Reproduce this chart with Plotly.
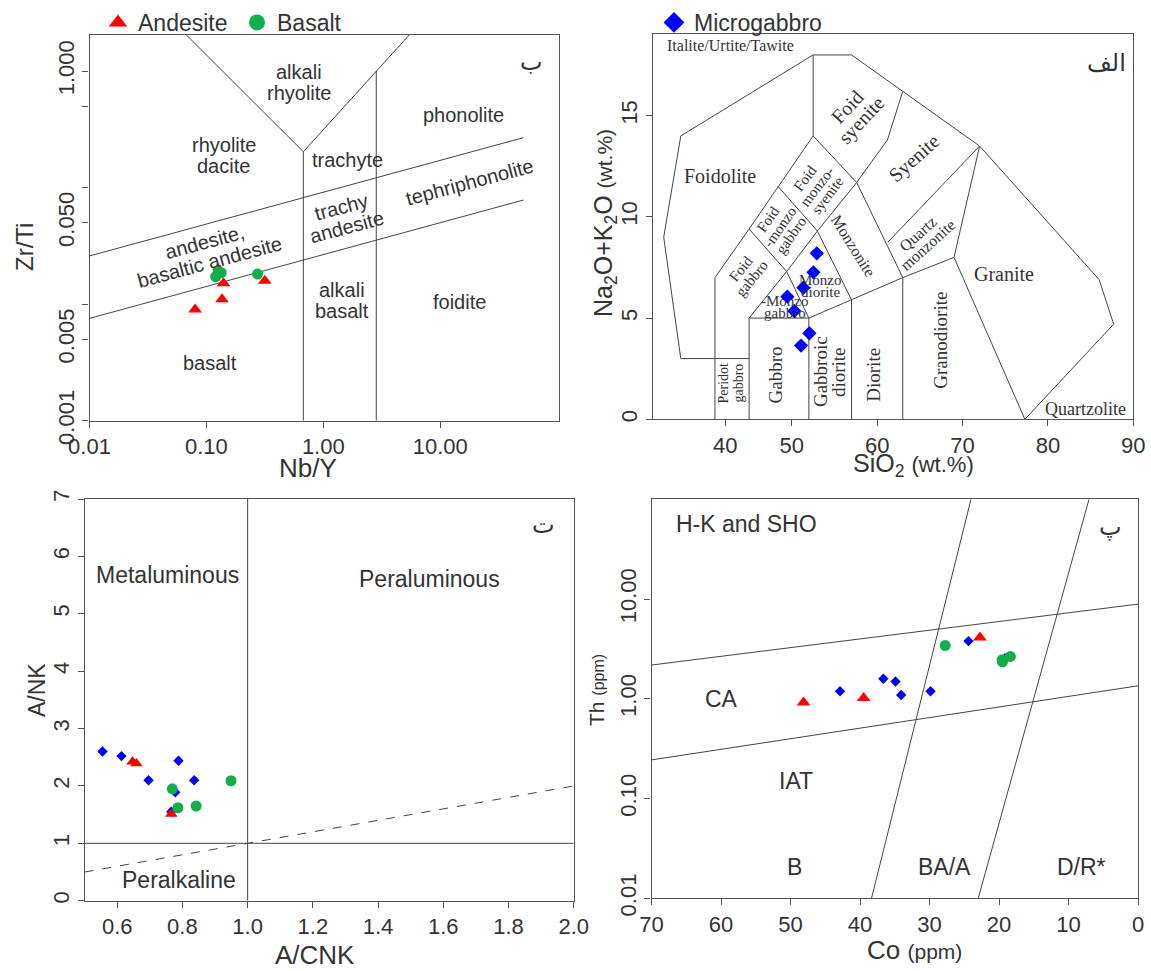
import numpy as np
import plotly.graph_objects as go

W, H = 1151, 971
SANS = "Liberation Sans"
SERIF = "Liberation Serif"
ARAB = "DejaVu Sans"
TXT = "#333333"
AX = "#555555"
LN = "#444444"
RED, GREEN, BLUE = "#FF0000", "#13AE4B", "#0000FF"

# ---------------- Panel "ب" : Zr/Ti vs Nb/Y (Pearce 1996) ----------------
pe_andesite_nby = [0.080, 0.136, 0.140, 0.316]
pe_andesite_zrti = [0.0090, 0.0110, 0.0151, 0.0159]
pe_basalt_nby = [0.120, 0.126, 0.134, 0.274]
pe_basalt_zrti = [0.0172, 0.0194, 0.0186, 0.0181]
pe_lines = [
    [(0.0655, 2.1), (0.675, 0.203), (5.58, 2.1)],
    [(0.675, 0.203), (0.675, 0.001)],
    [(2.84, 1.0), (2.84, 0.001)],
    [(0.01, 0.0259), (51.5, 0.268)],
    [(0.01, 0.00755), (51.5, 0.0782)],
]
pe_xticks = [0.01, 0.1, 1, 10]
pe_xticktext = ["0.01", "0.10", "1.00", "10.00"]
pe_yticks = [0.001, 0.005, 0.01, 0.05, 0.1, 0.5, 1]
pe_yticktext = ["0.001", "0.005", "", "0.050", "", "", "1.000"]
pe_labels = [  # lines, x, y, angle
    (["alkali", "rhyolite"], 0.618, 0.794, 0),
    (["phonolite"], 15.8, 0.419, 0),
    (["rhyolite", "dacite"], 0.141, 0.187, 0),
    (["trachyte"], 1.62, 0.172, 0),
    (["tephriphonolite"], 17.9, 0.112, -15),
    (["trachy", "andesite"], 1.50, 0.0562, -15),
    (["andesite,", "basaltic andesite"], 0.101, 0.0282, -15),
    (["alkali", "basalt"], 1.45, 0.0108, 0),
    (["foidite"], 14.7, 0.01035, 0),
    (["basalt"], 0.108, 0.0031, 0),
]

# ---------------- Panel "الف" : TAS plutonic (Middlemost 1994) ----------------
tas_micro_sio2 = [52.93, 52.54, 51.36, 49.48, 50.30, 52.06, 51.09]
tas_micro_alk = [8.20, 7.26, 6.50, 6.06, 5.35, 4.25, 3.64]
tas_lines = [
    [(37, 3), (35, 9), (37, 14), (52.5, 18), (57, 18), (72, 13.5), (86, 6.9), (87.7, 4.7), (77.3, 0)],
    [(37, 3), (45, 3)],
    [(41, 0), (41, 7), (45, 9.4), (48.4, 11.5), (52.5, 14), (52.5, 18)],
    [(45, 0), (45, 5), (52, 5), (52, 0)],
    [(45, 5), (49.4, 7.3), (52, 5)],
    [(45, 9.4), (49.4, 7.3), (53, 9.3), (57, 5.9), (57, 0)],
    [(52, 5), (57, 5.9), (63, 7), (69, 8), (77.3, 0)],
    [(63, 0), (63, 7)],
    [(48.4, 11.5), (53, 9.3)],
    [(52.5, 14), (57.6, 11.7), (63, 7)],
    [(53, 9.3), (57.6, 11.7), (61.2, 13.8), (63, 16.2)],
    [(61.25, 8.75), (72, 13.5), (69, 8)],
]
tas_xticks = [42.2, 50, 60, 70, 80, 90]
tas_xticktext = ["40", "50", "60", "70", "80", "90"]
tas_yticks = [0, 5, 10, 15]
tas_labels = [  # lines, x, y, angle, size, spacing
    (["Italite/Urtite/Tawite"], 42.8, 18.45, 0, 16, 16),
    (["Foidolite"], 41.6, 12.0, 0, 20, 20),
    (["Foid", "syenite"], 57.3, 15.1, -47, 20, 19),
    (["Syenite"], 64.3, 12.9, -42, 20, 20),
    (["Foid", "monzo-", "syenite"], 52.9, 11.5, -53, 15, 14),
    (["Foid", "-monzo", "gabbro"], 48.6, 9.5, -55, 15, 14),
    (["Foid", "gabbro"], 44.7, 7.2, -51, 15, 15),
    (["Monzonite"], 57.2, 8.6, 58, 16, 16),
    (["Quartz", "monzonite"], 65.4, 8.9, -42, 16, 15),
    (["Monzo", "diorite"], 53.4, 6.6, 0, 15, 12),
    (["-Monzo", "gabbro"], 49.2, 5.55, 0, 15, 12),
    (["Granite"], 74.8, 7.16, 0, 20, 20),
    (["Granodiorite"], 67.4, 3.9, -90, 19, 19),
    (["Peridot", "gabbro"], 42.85, 1.78, -90, 14, 15),
    (["Gabbro"], 48.2, 2.19, -90, 19, 19),
    (["Gabbroic", "diorite"], 54.4, 2.35, -90, 19, 18),
    (["Diorite"], 59.6, 2.19, -90, 19, 19),
    (["Quartzolite"], 84.4, 0.49, 0, 18, 18),
]

# ---------------- Panel "ت" : A/NK vs A/CNK ----------------
ac_micro_acnk = [0.555, 0.613, 0.696, 0.788, 0.836, 0.778, 0.766]
ac_micro_ank = [2.60, 2.52, 2.10, 2.44, 2.10, 1.89, 1.55]
ac_andesite_acnk = [0.647, 0.659, 0.766]
ac_andesite_ank = [2.42, 2.39, 1.51]
ac_basalt_acnk = [0.769, 0.786, 0.842, 0.949]
ac_basalt_ank = [1.95, 1.62, 1.65, 2.09]
ac_xticks = [0.6, 0.8, 1.0, 1.2, 1.4, 1.6, 1.8, 2.0]
ac_yticks = [0, 1, 2, 3, 4, 5, 6, 7]

# ---------------- Panel "پ" : Th vs Co (Hastie et al. 2007) ----------------
ct_micro_co = [42.88, 36.65, 34.90, 34.08, 29.86, 24.40, 19.15]
ct_micro_th = [1.19, 1.59, 1.49, 1.09, 1.19, 3.79, 2.56]
ct_andesite_co = [48.13, 39.48, 22.75]
ct_andesite_th = [0.918, 1.02, 4.12]
ct_basalt_co = [27.75, 19.56, 18.38, 19.51]
ct_basalt_th = [3.43, 2.46, 2.66, 2.35]
ct_lines = [
    [(70, 2.18), (0, 8.9)],
    [(70, 0.244), (0, 1.35)],
    [(38.35, 0.01), (24.04, 100)],
    [(23.0, 0.01), (7.06, 100)],
]
ct_xticks = [70, 60, 50, 40, 30, 20, 10, 0]
ct_yticks = [0.01, 0.1, 1, 10]
ct_yticktext = ["0.01", "0.10", "1.00", "10.00"]

fig = go.Figure()


def px_dom(a, b, total, flip=False):
    if flip:
        return [1 - b / total, 1 - a / total]
    return [a / total, b / total]


def add_lines(segs, xa, ya, dash="solid"):
    xs, ys = [], []
    for seg in segs:
        for (x, y) in seg:
            xs.append(x)
            ys.append(y)
        xs.append(None)
        ys.append(None)
    fig.add_trace(go.Scatter(x=xs, y=ys, mode="lines", xaxis=xa, yaxis=ya,
                             line=dict(color=LN, width=1, dash=dash),
                             showlegend=False, hoverinfo="skip"))


def add_pts(x, y, xa, ya, symbol, color, size):
    fig.add_trace(go.Scatter(x=x, y=y, mode="markers", xaxis=xa, yaxis=ya,
                             marker=dict(symbol=symbol, color=color, size=size, line=dict(width=0)),
                             showlegend=False))


def add_label(lines, x, y, xref, yref, size, angle=0, family=SANS, spacing=None, color=TXT):
    n = len(lines)
    s = spacing if spacing else size
    th = np.deg2rad(angle)
    for i, t in enumerate(lines):
        d = (i - (n - 1) / 2) * s
        fig.add_annotation(text=t, x=x, y=y, xref=xref, yref=yref, showarrow=False,
                           textangle=angle, font=dict(size=size, family=family, color=color),
                           xshift=-np.sin(th) * d, yshift=-np.cos(th) * d,
                           xanchor="center", yanchor="middle")


def paper_label(text, px, py, size, angle=0, family=SANS):
    fig.add_annotation(text=text, x=px / W, y=1 - py / H, xref="paper", yref="paper",
                       showarrow=False, textangle=angle, xanchor="center", yanchor="middle",
                       font=dict(size=size, family=family, color=TXT))


# Panel 1 traces
add_lines(pe_lines, "x", "y")
add_pts(pe_andesite_nby, pe_andesite_zrti, "x", "y", "triangle-up", RED, 12)
add_pts(pe_basalt_nby, pe_basalt_zrti, "x", "y", "circle", GREEN, 11)
for lines, x, y, ang in pe_labels:
    add_label(lines, np.log10(x), np.log10(y), "x", "y", 20, ang, spacing=21)
add_label(["ب"], 1.785, 0.077, "x", "y", 24, 0, family=ARAB)

# Panel 2 traces
add_lines(tas_lines, "x2", "y2")
add_pts(tas_micro_sio2, tas_micro_alk, "x2", "y2", "diamond", BLUE, 11)
for lines, x, y, ang, sz, sp in tas_labels:
    add_label(lines, x, y, "x2", "y2", sz, ang, family=SERIF, spacing=sp)
add_label(["الف"], 86.9, 17.6, "x2", "y2", 24, 0, family=ARAB)

# Panel 3 traces
add_lines([[(1.0, 0), (1.0, 7)], [(0.5, 1), (2.0, 1)]], "x3", "y3")
add_lines([[(0.5, 0.5), (2.0, 2.0)]], "x3", "y3", dash="dash")
add_pts(ac_micro_acnk, ac_micro_ank, "x3", "y3", "diamond", BLUE, 8)
add_pts(ac_andesite_acnk, ac_andesite_ank, "x3", "y3", "triangle-up", RED, 11)
add_pts(ac_basalt_acnk, ac_basalt_ank, "x3", "y3", "circle", GREEN, 11)
add_label(["Metaluminous"], 0.754, 5.68, "x3", "y3", 23)
add_label(["Peraluminous"], 1.557, 5.60, "x3", "y3", 23)
add_label(["Peralkaline"], 0.789, 0.36, "x3", "y3", 23)
add_label(["ت"], 1.908, 6.55, "x3", "y3", 24, 0, family=ARAB)

# Panel 4 traces
add_lines(ct_lines, "x4", "y4")
add_pts(ct_micro_co, ct_micro_th, "x4", "y4", "diamond", BLUE, 8)
add_pts(ct_andesite_co, ct_andesite_th, "x4", "y4", "triangle-up", RED, 12)
add_pts(ct_basalt_co, ct_basalt_th, "x4", "y4", "circle", GREEN, 11)
add_label(["H-K and SHO"], 56.4, 1.752, "x4", "y4", 23)
add_label(["CA"], 59.96, 0.0, "x4", "y4", 23)
add_label(["IAT"], 49.26, -0.823, "x4", "y4", 23)
add_label(["B"], 49.4, -1.682, "x4", "y4", 23)
add_label(["BA/A"], 27.9, -1.682, "x4", "y4", 23)
add_label(["D/R*"], 8.1, -1.682, "x4", "y4", 23)
add_label(["پ"], 3.95, 1.725, "x4", "y4", 24, 0, family=ARAB)

# Legend entries
fig.add_trace(go.Scatter(x=[None], y=[None], mode="markers", name="Andesite", xaxis="x", yaxis="y",
                         marker=dict(symbol="triangle-up", color=RED, size=17), legend="legend"))
fig.add_trace(go.Scatter(x=[None], y=[None], mode="markers", name="Basalt", xaxis="x", yaxis="y",
                         marker=dict(symbol="circle", color=GREEN, size=16), legend="legend"))
fig.add_trace(go.Scatter(x=[None], y=[None], mode="markers", name="Microgabbro", xaxis="x2", yaxis="y2",
                         marker=dict(symbol="diamond", color=BLUE, size=16), legend="legend2"))

# Axis titles
paper_label("Zr/Ti", 25, 247, 24, -90)
paper_label("Nb/Y", 308, 468, 26)
paper_label("Na<sub>2</sub>O+K<sub>2</sub>O <span style='font-size:21px'>(wt.%)</span>", 605, 223, 25, -90)
paper_label("SiO<sub>2</sub> <span style='font-size:22px'>(wt.%)</span>", 913, 465, 25)
paper_label("A/NK", 37, 690, 23, -90)
paper_label("A/CNK", 315, 955, 26)
paper_label("Th <span style='font-size:16px'>(ppm)</span>", 596, 690, 21, -90)
paper_label("Co <span style='font-size:21px'>(ppm)</span>", 914, 950, 26)


def axis_style(**kw):
    base = dict(showline=True, mirror=True, linecolor=AX, linewidth=1.2, ticks="outside",
                ticklen=6, tickwidth=1.2, tickcolor=AX, showgrid=False, zeroline=False,
                automargin=False,
                tickfont=dict(size=22, color=TXT, family=SANS))
    base.update(kw)
    return base


legend_common = dict(orientation="h", xanchor="left", yanchor="top", bgcolor="rgba(0,0,0,0)",
                     font=dict(size=23, color=TXT, family=SANS), itemsizing="trace",
                     tracegroupgap=0)

fig.update_layout(
    width=W, height=H, margin=dict(l=0, r=0, t=0, b=0, autoexpand=False),
    paper_bgcolor="white", plot_bgcolor="white",
    legend=dict(x=98 / W, y=1 - 1 / H, entrywidth=94, entrywidthmode="pixels", **legend_common),
    legend2=dict(x=654 / W, y=1 - 1 / H, **legend_common),
    xaxis=axis_style(type="log", range=[-2, 2.013], domain=px_dom(89.5, 558.6, W),
                     tickvals=pe_xticks, ticktext=pe_xticktext, anchor="y"),
    yaxis=axis_style(type="log", range=[-3, 0.309], domain=px_dom(35, 420.7, H, True),
                     tickvals=pe_yticks, ticktext=pe_yticktext, tickangle=-90, anchor="x"),
    xaxis2=axis_style(range=[33.78, 90], domain=px_dom(653.3, 1133.3, W),
                      tickvals=tas_xticks, ticktext=tas_xticktext, anchor="y2"),
    yaxis2=axis_style(range=[0, 19.02], domain=px_dom(34.3, 419.3, H, True),
                      tickvals=tas_yticks, tickangle=-90, anchor="x2"),
    xaxis3=axis_style(range=[0.5, 2.0], domain=px_dom(84.6, 573.7, W),
                      tickvals=ac_xticks, tickformat=".1f", anchor="y3"),
    yaxis3=axis_style(range=[0, 7], domain=px_dom(499, 900.7, H, True),
                      tickvals=ac_yticks, tickangle=-90, anchor="x3"),
    xaxis4=axis_style(range=[70, 0], domain=px_dom(651.5, 1138.1, W),
                      tickvals=ct_xticks, anchor="y4"),
    yaxis4=axis_style(type="log", range=[-2, 2], domain=px_dom(499.3, 898.3, H, True),
                      tickvals=ct_yticks, ticktext=ct_yticktext, tickangle=-90, anchor="x4"),
)

fig.write_html("out.html", config={"displayModeBar": False},
               post_script="document.body.style.margin='0px';document.body.style.overflow='hidden';")
